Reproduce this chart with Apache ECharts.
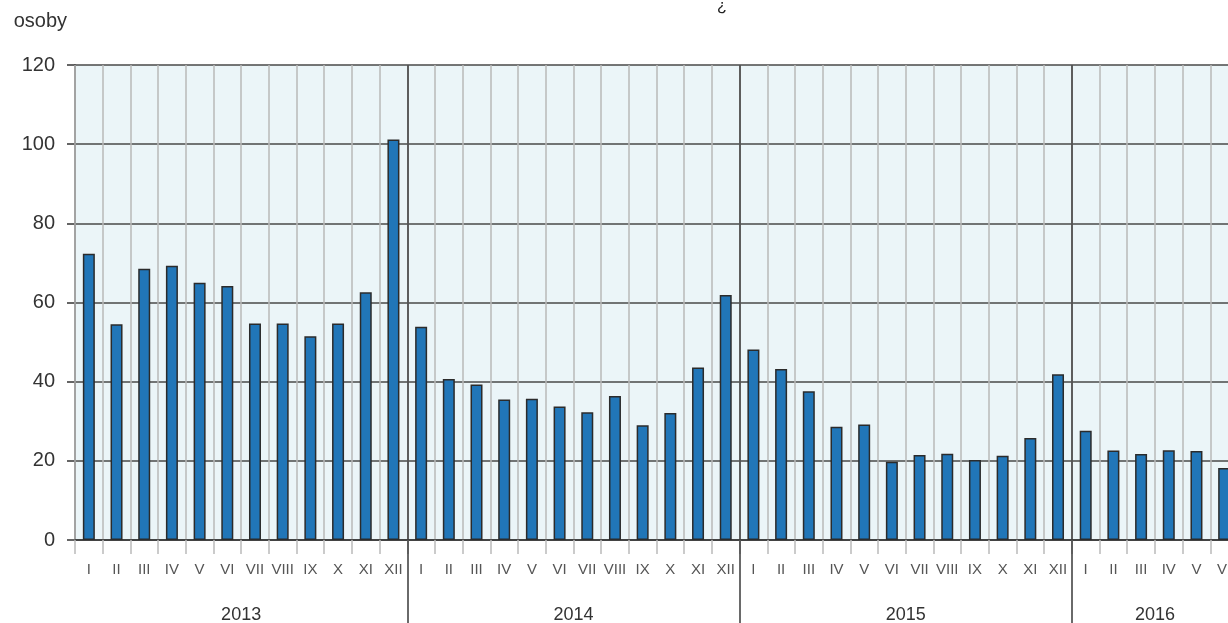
<!DOCTYPE html>
<html>
<head>
<meta charset="utf-8">
<script src="https://cdn.jsdelivr.net/npm/echarts@6/dist/echarts.min.js"></script>
<style>
  html, body { margin: 0; padding: 0; background: #fff; }
  #chart { width: 1228px; height: 623px; }
</style>
</head>
<body>
<div id="chart"></div>
<script>
const months = ['I', 'II', 'III', 'IV', 'V', 'VI', 'VII', 'VIII', 'IX', 'X', 'XI', 'XII']
const years = ['2013', '2014', '2015', '2016']

const values2013 = [72.3, 54.5, 68.5, 69.3, 65.0, 64.2, 54.7, 54.7, 51.5, 54.7, 62.6, 101.2]
const values2014 = [53.9, 40.7, 39.3, 35.5, 35.7, 33.7, 32.3, 36.4, 29.0, 32.1, 43.6, 61.9]
const values2015 = [48.1, 43.2, 37.6, 28.6, 29.2, 19.8, 21.5, 21.8, 20.2, 21.3, 25.8, 41.9]
const values2016 = [27.6, 22.6, 21.7, 22.7, 22.5, 18.2]

const yTicks = { min: 0, max: 120, interval: 20 }

// month labels for each bar
const monthLabels = [
  ...months, ...months, ...months, ...months.slice(0, values2016.length)
]
const values = [...values2013, ...values2014, ...values2015, ...values2016]

// year axis: one slot per month boundary, year name in the middle of its months
const yearCounts = [12, 12, 12, values2016.length]
const yearSlots = new Array(monthLabels.length + 1).fill('')
let start = 0
yearCounts.forEach((n, i) => {
  yearSlots[start + n / 2] = years[i]
  start += n
})
const yearBounds = yearCounts.slice(0, -1).map((n, i) =>
  yearCounts.slice(0, i + 1).reduce((a, b) => a + b, 0)
)
const isYearBound = idx => yearBounds.indexOf(idx) >= 0

const chart = echarts.init(document.getElementById('chart'))

chart.setOption({
  backgroundColor: '#fff',
  animation: false,
  textStyle: { fontFamily: 'Liberation Sans, Arial, sans-serif' },
  title: {
    text: '¿',
    left: 712,
    top: -6,
    textStyle: { fontSize: 16, fontWeight: 'normal', color: '#222' }
  },
  grid: {
    left: 75,
    right: -10,
    top: 65,
    bottom: 83,
    show: true,
    backgroundColor: '#ebf5f8',
    borderWidth: 0,
    outerBoundsMode: 'none'
  },
  xAxis: [
    {
      type: 'category',
      data: monthLabels,
      boundaryGap: true,
      axisLine: { lineStyle: { color: '#333', width: 1.5 } },
      axisTick: { show: true, length: 14, lineStyle: { color: '#bbb', width: 1.5 } },
      axisLabel: { interval: 0, color: '#555', fontSize: 15, margin: 22 },
      splitLine: { show: true, interval: 0, lineStyle: { color: '#b8b8b8', width: 1.5 } },
      z: 3
    },
    {
      type: 'category',
      data: yearSlots,
      position: 'bottom',
      boundaryGap: false,
      axisLine: { show: false },
      axisTick: {
        show: true,
        interval: idx => isYearBound(idx),
        length: 84,
        lineStyle: { color: '#3a3a3a', width: 1.5 }
      },
      axisLabel: { interval: 0, color: '#333', fontSize: 18, margin: 66 },
      splitLine: {
        show: true,
        interval: idx => isYearBound(idx),
        lineStyle: { color: '#3a3a3a', width: 1.5 }
      },
      z: 4
    }
  ],
  yAxis: {
    type: 'value',
    min: yTicks.min,
    max: yTicks.max,
    interval: yTicks.interval,
    name: 'osoby',
    nameLocation: 'end',
    nameGap: 34,
    nameTextStyle: { color: '#333', fontSize: 20, align: 'right', padding: [0, 8, 0, 0] },
    axisLine: { show: true, lineStyle: { color: '#333', width: 1.5 } },
    axisTick: { show: true, length: 8, lineStyle: { color: '#333', width: 1.5 } },
    axisLabel: { color: '#333', fontSize: 20, margin: 20 },
    splitLine: { show: true, lineStyle: { color: '#484848', width: 1.5 } }
  },
  series: [
    {
      type: 'bar',
      xAxisIndex: 0,
      data: values,
      barWidth: 12,
      itemStyle: { color: '#2176b8', borderColor: '#2b2b2b', borderWidth: 1.5 },
      z: 5
    }
  ]
})
</script>
</body>
</html>
